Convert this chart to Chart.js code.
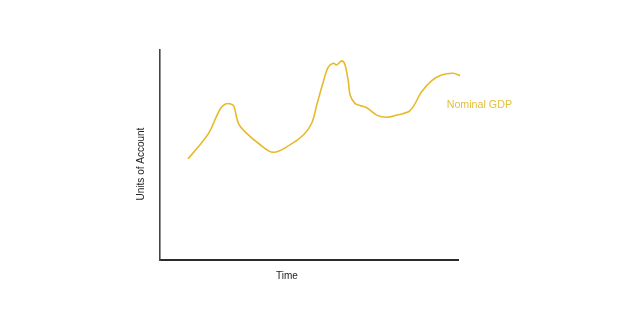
<!DOCTYPE html>
<html>
<head>
<meta charset="utf-8">
<script src="https://cdn.jsdelivr.net/npm/chart.js@4/dist/chart.umd.min.js"></script>
<style>
  html, body { margin: 0; padding: 0; background: #fff; }
  #wrap { width: 640px; height: 332px; }
</style>
</head>
<body>
<div id="wrap"><canvas id="c"></canvas></div>
<script>
// values (time 0..100, units 0..100)
const timeVals = [9.4, 12.5, 16.4, 18.7, 20.4, 22.0, 23.7, 24.8, 26.3, 29.1, 33.0, 38.0, 43.6, 48.1, 50.9, 52.6, 54.8, 56.5, 58.2, 59.3, 61.0, 62.1, 63.2, 63.8, 65.4, 67.1, 69.4, 72.7, 76.1, 79.4, 83.9, 87.8, 91.2, 94.5, 98.4, 100.7];
const gdpVals  = [48.2, 53.3, 60.5, 67.6, 72.4, 74.3, 74.3, 73.2, 65.1, 60.3, 55.6, 51.3, 54.8, 59.5, 65.1, 73.8, 84.9, 92.0, 93.7, 92.9, 94.8, 92.9, 84.9, 78.6, 74.6, 73.6, 72.5, 69.0, 68.0, 69.0, 71.1, 80.1, 85.4, 88.1, 88.9, 87.8];
const seriesName = 'Nominal GDP';
const xTitle = 'Time';
const yTitle = 'Units of Account';

const lineColor = '#e6ba2a';
const fontFam = '"Liberation Sans", Arial, sans-serif';

const points = timeVals.map((t, i) => ({ x: t, y: gdpVals[i] }));

// axis titles and series label, placed by the scales
const sketchLabels = {
    id: 'sketchLabels',
    afterDatasetsDraw(chart) {
        const { ctx, chartArea, scales: { x, y } } = chart;
        ctx.save();
        ctx.textAlign = 'center';
        ctx.textBaseline = 'middle';
        ctx.font = '10px ' + fontFam;
        ctx.fillStyle = '#222';
        ctx.fillText(xTitle, x.getPixelForValue(42.6), chartArea.bottom + 16);

        ctx.translate(chartArea.left - 19, y.getPixelForValue(45.7));
        ctx.rotate(-Math.PI / 2);
        ctx.fillText(yTitle, 0, 0);
        ctx.restore();

        ctx.save();
        ctx.font = '10.7px ' + fontFam;
        ctx.fillStyle = '#e3bf3a';
        ctx.textBaseline = 'middle';
        ctx.fillText(seriesName, x.getPixelForValue(96.2), y.getPixelForValue(73.6));
        ctx.restore();
    }
};

new Chart(document.getElementById('c'), {
    type: 'scatter',
    data: {
        datasets: [{
            label: seriesName,
            data: points,
            showLine: true,
            borderColor: lineColor,
            borderWidth: 1.6,
            pointRadius: 0,
            tension: 0.35,
            clip: false
        }]
    },
    options: {
        responsive: true,
        maintainAspectRatio: false,
        animation: false,
        layout: { padding: { left: 160, right: 182, top: 50, bottom: 72 } },
        plugins: { legend: { display: false }, tooltip: { enabled: false } },
        scales: {
            x: {
                type: 'linear', min: 0, max: 100,
                grid: { display: false, drawTicks: false },
                ticks: { display: false },
                border: { display: true, color: '#2b2b2b', width: 2 }
            },
            y: {
                type: 'linear', min: 0, max: 100,
                grid: { display: false, drawTicks: false },
                ticks: { display: false },
                border: { display: true, color: '#444', width: 1.6 }
            }
        }
    },
    plugins: [sketchLabels]
});
</script>
</body>
</html>
